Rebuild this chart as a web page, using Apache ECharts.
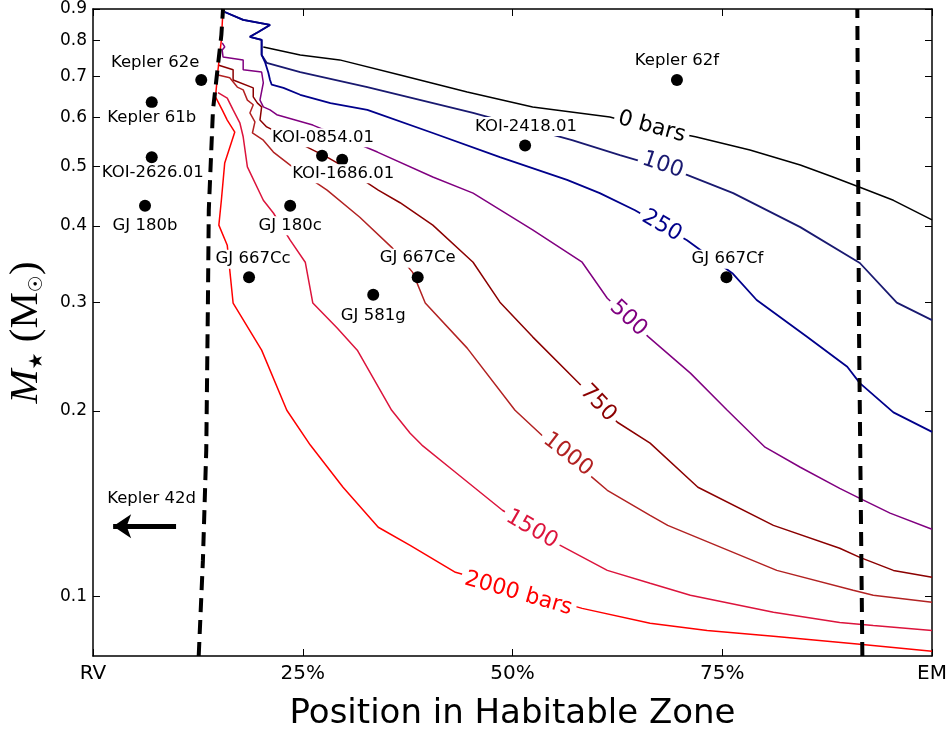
<!DOCTYPE html>
<html>
<head>
<meta charset="UTF-8">
<title>Position in Habitable Zone</title>
<script src="https://cdn.jsdelivr.net/npm/echarts@6/dist/echarts.min.js"></script>
<style>
    html, body { margin: 0; padding: 0; background: #fff; }
    #main { width: 950px; height: 736px; }
</style>
</head>
<body>
<div id="main"></div>
<script>
// x: position in habitable zone (%), 0 = RV, 100 = EM ; y: stellar mass (Msun)
var xTicks = [0, 25, 50, 75, 100];
var xTickLabels = ['RV', '25%', '50%', '75%', 'EM'];
var massTicks = [0.1, 0.2, 0.3, 0.4, 0.5, 0.6, 0.7, 0.8, 0.9];

// planets
var planetNames = ['Kepler 62e', 'Kepler 62f', 'Kepler 61b', 'KOI-2418.01', 'KOI-0854.01', 'KOI-1686.01',
    'KOI-2626.01', 'GJ 180b', 'GJ 180c', 'GJ 667Cc', 'GJ 667Ce', 'GJ 667Cf', 'GJ 581g'];
var planetHZ = [12.9, 69.6, 7.0, 51.5, 27.3, 29.7, 7.0, 6.2, 23.5, 18.6, 38.7, 75.5, 33.4];
var planetMass = [0.69, 0.69, 0.635, 0.54, 0.52, 0.512, 0.517, 0.431, 0.431, 0.33, 0.33, 0.33, 0.309];
var kepler42dMass = 0.13;

// habitable zone edges (dashed)
var innerEdge = [[12.6, 0.08], [13.1, 0.1144], [13.5, 0.173], [13.7, 0.303], [13.8, 0.424], [14.3, 0.617], [14.7, 0.69], [15.3, 0.817], [15.5, 0.9]];
var outerEdge = [[91.7, 0.08], [91.3, 0.271], [91.1, 0.9]];

// pressure contours
var levels = ['0 bars', '100', '250', '500', '750', '1000', '1500', '2000 bars'];
var bar0 = [[20.3, 0.781], [24.7, 0.758], [29.4, 0.744], [36.6, 0.703], [44.6, 0.660], [52.4, 0.624], [61.6, 0.601], [66.4, 0.577],
    [71.8, 0.558], [78.3, 0.531], [84.3, 0.502], [88.2, 0.480], [91.4, 0.462], [95.4, 0.440], [100, 0.409]];
var bar100 = [[15.7, 0.890], [17.9, 0.864], [21.1, 0.848], [19.7, 0.826], [18.7, 0.811], [20.1, 0.802], [20.1, 0.758], [20.7, 0.736],
    [24.7, 0.711], [32.7, 0.672], [45.3, 0.610], [57.1, 0.551], [62.8, 0.521], [70.8, 0.484], [76.3, 0.452], [84.3, 0.398],
    [91.4, 0.348], [95.8, 0.300], [100, 0.281]];
var bar250 = [[15.7, 0.890], [17.9, 0.864], [21.1, 0.848], [19.7, 0.826], [18.7, 0.811], [20.1, 0.802], [20.1, 0.758], [20.5, 0.738],
    [20.9, 0.709], [21.1, 0.690], [21.3, 0.678], [22.7, 0.670], [24.7, 0.653], [28.3, 0.633], [32.7, 0.617], [40.5, 0.566],
    [48.5, 0.517], [56.5, 0.475], [60.4, 0.452], [64.6, 0.424], [70.8, 0.379], [76.2, 0.335], [79.1, 0.303], [85.1, 0.264],
    [89.9, 0.236], [91.4, 0.222], [95.4, 0.199], [100, 0.185]];
var bar500 = [[15.4, 0.793], [15.7, 0.781], [15.4, 0.772], [15.5, 0.752], [17.9, 0.744], [17.9, 0.717], [20.1, 0.711], [20.3, 0.683],
    [19.9, 0.640], [20.3, 0.624], [21.1, 0.617], [21.9, 0.606], [26.2, 0.583], [33.9, 0.527], [40.5, 0.480], [45.3, 0.452],
    [52.4, 0.394], [58.3, 0.349], [61.3, 0.305], [66.2, 0.264], [71.2, 0.2305], [75.6, 0.2006], [80.1, 0.1747], [84.3, 0.1621],
    [89.0, 0.1498], [91.4, 0.1443], [95.0, 0.1365], [100, 0.1285]];
var bar750 = [[14.9, 0.730], [16.7, 0.717], [16.7, 0.690], [19.1, 0.670], [19.1, 0.648], [19.6, 0.633], [20.1, 0.624], [19.9, 0.594],
    [20.7, 0.579], [27.9, 0.517], [29.1, 0.506], [34.0, 0.457], [36.6, 0.436], [40.5, 0.401], [45.3, 0.349], [48.5, 0.3006],
    [52.4, 0.264], [57.8, 0.2228], [62.5, 0.1918], [66.4, 0.1774], [72.1, 0.1504], [81.1, 0.1304], [89.0, 0.1197], [91.4, 0.1157],
    [95.4, 0.1102], [100, 0.1074]];
var bar1000 = [[14.9, 0.703], [16.3, 0.696], [17.2, 0.672], [17.9, 0.665], [18.4, 0.640], [19.1, 0.629], [18.7, 0.610], [19.3, 0.590],
    [19.0, 0.566], [20.3, 0.551], [21.5, 0.527], [23.5, 0.502], [27.9, 0.457], [31.8, 0.413], [35.6, 0.369], [38.1, 0.336],
    [39.6, 0.2996], [44.6, 0.2531], [50.3, 0.2006], [53.5, 0.1827], [59.5, 0.1561], [61.3, 0.1487], [66.4, 0.1354], [68.5, 0.1304],
    [81.5, 0.1102], [90.6, 0.1023], [93.0, 0.1004], [100, 0.0978]];
var bar1500 = [[14.9, 0.658], [16.0, 0.645], [16.7, 0.617], [17.5, 0.588], [17.9, 0.558], [18.4, 0.4985], [20.3, 0.440], [21.5, 0.4196],
    [23.5, 0.379], [25.3, 0.349], [26.2, 0.2996], [29.1, 0.2728], [31.5, 0.2512], [35.6, 0.2006], [37.8, 0.1841], [39.2, 0.1761],
    [42.9, 0.1603], [48.8, 0.1380], [55.7, 0.1210], [61.3, 0.1102], [66.4, 0.1050], [71.2, 0.1004], [81.1, 0.0942], [89.0, 0.0907],
    [93.0, 0.0897], [100, 0.0880]];
var bar2000 = [[15.5, 0.900], [15.3, 0.802], [14.9, 0.717], [14.6, 0.648], [15.4, 0.617], [16.0, 0.594], [16.9, 0.568], [15.7, 0.506],
    [15.3, 0.440], [15.0, 0.401], [16.0, 0.372], [16.7, 0.2996], [20.1, 0.2512], [23.1, 0.2006], [25.9, 0.1761], [29.8, 0.1504],
    [34.0, 0.1295], [37.8, 0.1210], [43.2, 0.1094], [58.3, 0.0956], [66.4, 0.0904], [73.2, 0.0880], [81.1, 0.0861], [91.4, 0.0836],
    [100, 0.0814]];
var contours = [bar0, bar100, bar250, bar500, bar750, bar1000, bar1500, bar2000];

// styling / layout
var levelColors = ['#000000', '#191970', '#00008b', '#800080', '#8b0000', '#b22222', '#dc143c', '#ff0000'];
// inline contour label spot: [x, mass, angle]
var levelLabelAt = [[66.6, 0.579, -15], [67.9, 0.502, -19], [67.8, 0.400, -30], [63.8, 0.283, -43],
    [60.2, 0.206, -46], [56.6, 0.170, -38], [52.3, 0.1285, -30], [50.7, 0.101, -16]];
var planetLabelOffset = {
    'Kepler 62e': [-46, -17], 'Kepler 62f': [0, -19], 'Kepler 61b': [0, 15], 'KOI-2418.01': [1, -19],
    'KOI-0854.01': [1, -18], 'KOI-1686.01': [1, 14], 'KOI-2626.01': [1, 16], 'GJ 180b': [0, 20],
    'GJ 180c': [0, 20], 'GJ 667Cc': [4, -18], 'GJ 667Ce': [0, -19], 'GJ 667Cf': [1, -18], 'GJ 581g': [0, 21]
};

var series = [];

contours.forEach(function (pts, i) {
    series.push({
        name: levels[i],
        type: 'line',
        data: pts,
        showSymbol: false,
        symbol: 'none',
        silent: true,
        z: 2,
        lineStyle: { color: levelColors[i], width: (i === 1 || i === 2) ? 1.8 : 1.5 }
    });
});

series.push({
    type: 'line', data: innerEdge, symbol: 'none', silent: true, z: 3,
    lineStyle: { color: '#000', width: 4, type: [14, 8] }
});
series.push({
    type: 'line', data: outerEdge, symbol: 'none', silent: true, z: 3,
    lineStyle: { color: '#000', width: 4, type: [14, 8] }
});

// inline contour labels
series.push({
    type: 'scatter',
    symbolSize: 0,
    silent: true,
    z: 6,
    itemStyle: { opacity: 1 },
    data: levels.map(function (lv, i) {
        return {
            name: lv,
            value: [levelLabelAt[i][0], levelLabelAt[i][1]],
            label: { rotate: levelLabelAt[i][2], color: levelColors[i] }
        };
    }),
    label: {
        show: true,
        position: 'inside',
        formatter: '{b}',
        fontFamily: 'DejaVu Sans',
        fontSize: 22,
        backgroundColor: '#fff',
        padding: [0, 4]
    }
});

// planets
series.push({
    type: 'scatter',
    symbolSize: 12,
    silent: true,
    z: 10,
    itemStyle: { color: '#000', opacity: 1 },
    data: planetNames.map(function (n, i) {
        return {
            name: n,
            value: [planetHZ[i], planetMass[i]],
            label: { offset: planetLabelOffset[n] }
        };
    }),
    label: {
        show: true,
        position: 'inside',
        formatter: '{b}',
        color: '#000',
        fontFamily: 'DejaVu Sans',
        fontSize: 16.5,
        backgroundColor: '#fff',
        padding: [1, 1]
    }
});

// Kepler 42d lies off to the left
series.push({
    type: 'scatter',
    symbolSize: 0,
    silent: true,
    z: 10,
    itemStyle: { color: '#000', opacity: 1 },
    data: [{ name: 'Kepler 42d', value: [7.1, kepler42dMass] }],
    label: {
        show: true, position: 'inside', formatter: '{b}', offset: [-1, -27],
        color: '#000', fontFamily: 'DejaVu Sans', fontSize: 16.5
    },
    markLine: {
        silent: true,
        animation: false,
        symbol: ['none', 'arrow'],
        symbolSize: 18,
        label: { show: false },
        lineStyle: { color: '#000', width: 5, type: 'solid', opacity: 1 },
        data: [[{ coord: [9.9, kepler42dMass] }, { coord: [2.4, kepler42dMass] }]]
    }
});

var axisFrame = { show: true, onZero: false, lineStyle: { color: '#000', width: 1.5 } };

var option = {
    animation: false,
    backgroundColor: '#fff',
    grid: { left: 93, right: 18, top: 9, bottom: 80, containLabel: false, outerBoundsMode: 'none' },
    xAxis: [{
        type: 'value', min: 0, max: 100, interval: 25,
        position: 'bottom',
        axisLine: axisFrame,
        splitLine: { show: false },
        axisTick: { inside: true, length: 7, lineStyle: { color: '#000' } },
        axisLabel: {
            margin: 8, color: '#000', fontFamily: 'DejaVu Sans', fontSize: 20,
            formatter: function (v) { return xTickLabels[xTicks.indexOf(v)]; }
        },
        name: 'Position in Habitable Zone',
        nameLocation: 'middle',
        nameGap: 41,
        nameTextStyle: { color: '#000', fontFamily: 'DejaVu Sans', fontSize: 34 }
    }, {
        type: 'value', min: 0, max: 100, interval: 25,
        position: 'top',
        axisLine: axisFrame,
        splitLine: { show: false },
        axisTick: { inside: true, length: 7, lineStyle: { color: '#000' } },
        axisLabel: { show: false }
    }],
    yAxis: [{
        type: 'log', logBase: 10, min: 0.08, max: 0.9,
        position: 'left',
        axisLine: axisFrame,
        splitLine: { show: false },
        minorTick: { show: false },
        axisTick: { inside: true, length: 7, customValues: massTicks, lineStyle: { color: '#000' } },
        axisLabel: {
            customValues: massTicks, margin: 6, color: '#000', fontFamily: 'DejaVu Sans', fontSize: 17,
            formatter: function (v) { return (+v).toFixed(1); }
        },
        name: '{m|M}{s|★}{r| (M}{s|☉}{r|)}',
        nameLocation: 'middle',
        nameRotate: 90,
        nameGap: 46,
        nameTextStyle: {
            color: '#000',
            rich: {
                m: { fontFamily: 'Liberation Serif', fontStyle: 'italic', fontSize: 41, color: '#000' },
                r: { fontFamily: 'Liberation Serif', fontSize: 41, color: '#000' },
                s: { fontFamily: 'DejaVu Sans', fontSize: 19, verticalAlign: 'bottom', color: '#000' }
            }
        }
    }, {
        type: 'log', logBase: 10, min: 0.08, max: 0.9,
        position: 'right',
        axisLine: axisFrame,
        splitLine: { show: false },
        axisTick: { inside: true, length: 7, customValues: massTicks, lineStyle: { color: '#000' } },
        axisLabel: { show: false }
    }],
    series: series
};

var myChart = echarts.init(document.getElementById('main'), null, { renderer: 'canvas' });
myChart.setOption(option);
</script>
</body>
</html>
